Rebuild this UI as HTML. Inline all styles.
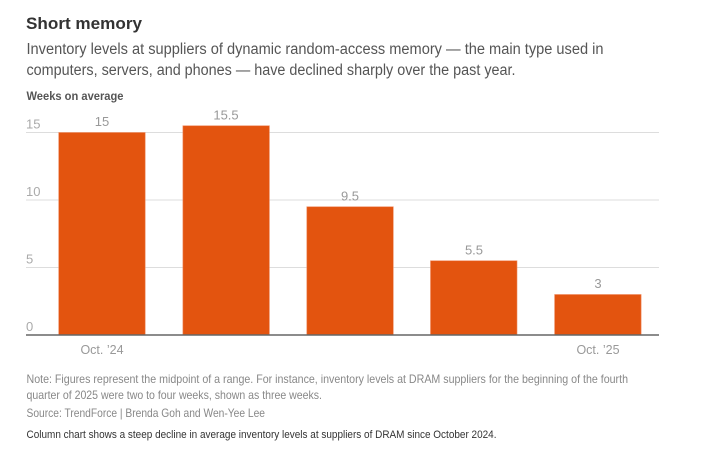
<!DOCTYPE html>
<html>
<head>
<meta charset="utf-8">
<style>
  html, body { margin: 0; padding: 0; background: #ffffff; }
  body { width: 703px; height: 452px; overflow: hidden; }
  svg { display: block; font-family: "Liberation Sans", "DejaVu Sans", sans-serif; }
</style>
</head>
<body>
<svg width="703" height="452" viewBox="0 0 703 452" xmlns="http://www.w3.org/2000/svg">
  <rect x="0" y="0" width="703" height="452" fill="#ffffff"/>

  <!-- Title -->
  <text x="26" y="29" font-size="17" font-weight="bold" fill="#333333" textLength="116" lengthAdjust="spacingAndGlyphs">Short memory</text>

  <!-- Subtitle -->
  <text x="26.5" y="54" font-size="15.5" fill="#555555" textLength="577" lengthAdjust="spacingAndGlyphs">Inventory levels at suppliers of dynamic random-access memory — the main type used in</text>
  <text x="26.5" y="75" font-size="15.5" fill="#555555" textLength="489" lengthAdjust="spacingAndGlyphs">computers, servers, and phones — have declined sharply over the past year.</text>

  <!-- Axis title -->
  <text x="26.5" y="100" font-size="11.5" font-weight="bold" fill="#555555" textLength="97" lengthAdjust="spacingAndGlyphs">Weeks on average</text>

  <!-- Gridlines -->
  <g stroke="#dddddd" stroke-width="1">
    <line x1="26" y1="132.5" x2="659" y2="132.5"/>
    <line x1="26" y1="200" x2="659" y2="200"/>
    <line x1="26" y1="267.5" x2="659" y2="267.5"/>
  </g>

  <!-- Y tick labels -->
  <g font-size="13" fill="#aaaaaa">
    <text x="26" y="128.5">15</text>
    <text x="26" y="196">10</text>
    <text x="26" y="263.5">5</text>
    <text x="26" y="331">0</text>
  </g>

  <!-- Bars -->
  <g fill="#E3540F" stroke="#EE8A5E" stroke-width="0.6">
    <rect x="58.7" y="132.5" width="86.5" height="202.5"/>
    <rect x="182.9" y="125.75" width="86.5" height="209.25"/>
    <rect x="306.8" y="206.75" width="86.5" height="128.25"/>
    <rect x="430.5" y="260.75" width="86.5" height="74.25"/>
    <rect x="554.6" y="294.5" width="86.5" height="40.5"/>
  </g>

  <!-- Baseline -->
  <line x1="26" y1="335" x2="659" y2="335" stroke="#666666" stroke-width="1.5"/>

  <!-- Value labels -->
  <g font-size="13" fill="#999999" text-anchor="middle">
    <text x="102" y="126">15</text>
    <text x="226" y="119.3">15.5</text>
    <text x="350" y="200.3">9.5</text>
    <text x="474" y="254.3">5.5</text>
    <text x="598" y="288">3</text>
  </g>

  <!-- X labels -->
  <g font-size="12.5" fill="#999999" text-anchor="middle">
    <text x="102" y="354">Oct. ’24</text>
    <text x="598" y="354">Oct. ’25</text>
  </g>

  <!-- Notes -->
  <g font-size="12" fill="#888888">
    <text x="26.5" y="383" textLength="601.5" lengthAdjust="spacingAndGlyphs">Note: Figures represent the midpoint of a range. For instance, inventory levels at DRAM suppliers for the beginning of the fourth</text>
    <text x="26.5" y="399" textLength="295.5" lengthAdjust="spacingAndGlyphs">quarter of 2025 were two to four weeks, shown as three weeks.</text>
    <text x="26.5" y="417" textLength="238.5" lengthAdjust="spacingAndGlyphs">Source: TrendForce | Brenda Goh and Wen-Yee Lee</text>
  </g>
  <text x="26.5" y="438" font-size="11" fill="#333333" textLength="470" lengthAdjust="spacingAndGlyphs">Column chart shows a steep decline in average inventory levels at suppliers of DRAM since October 2024.</text>
</svg>
</body>
</html>
